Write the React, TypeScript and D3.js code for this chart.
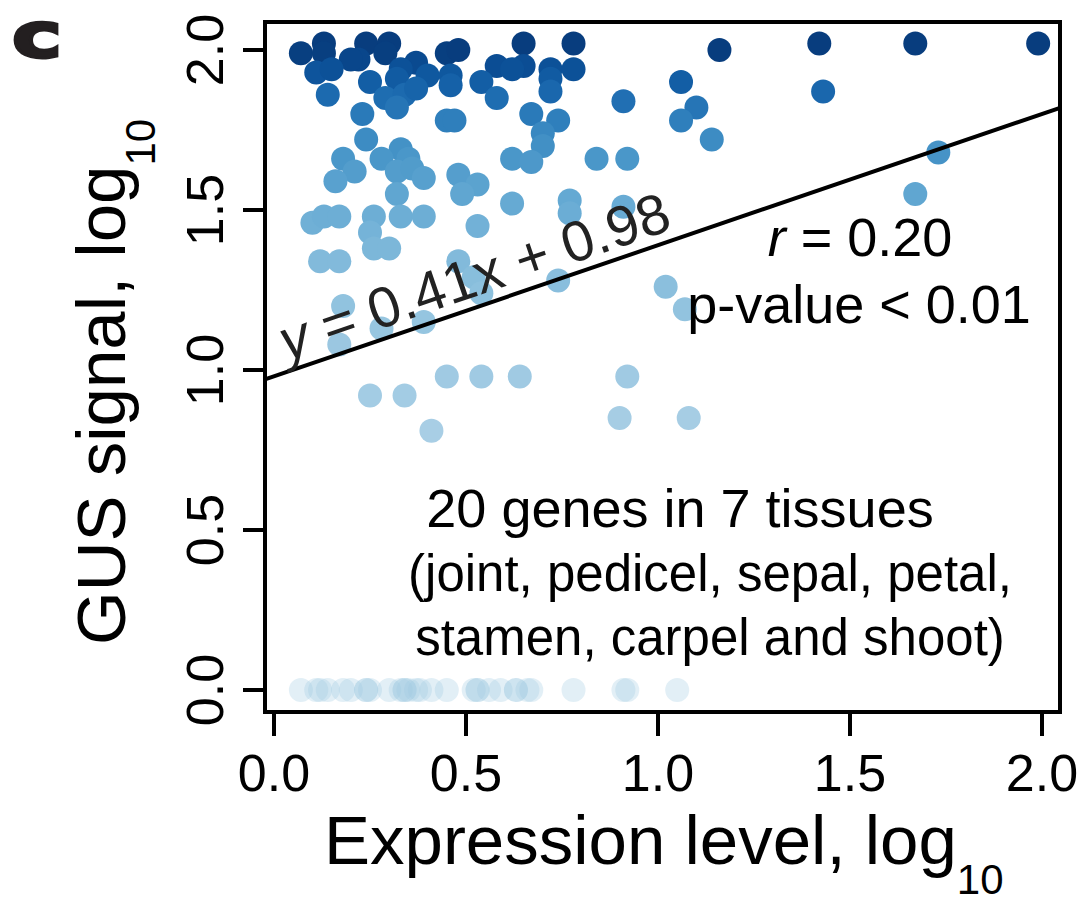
import React from "react";
import * as d3 from "d3";

// expression level (log10) and GUS signal (log10), one entry per gene/tissue
const expression = [
  0.07, 0.13, 0.13, 0.24, 0.30, 0.29, 0.22, 0.20, 0.45, 0.48, 0.65, 0.78, 0.58, 0.65, 0.62, 0.72,
  0.72, 0.78, 0.11, 0.15, 0.14, 0.25, 0.37, 0.33, 0.32, 0.40, 0.46, 0.46, 0.54, 0.58, 0.72, 0.29,
  0.34, 0.32, 0.37, 0.91, 0.23, 0.45, 0.47, 0.67, 0.74, 0.70, 0.70, 0.24, 0.33, 0.35, 0.28, 0.18,
  0.21, 0.16, 0.32, 0.36, 0.39, 0.48, 0.53, 0.49, 0.62, 0.67, 0.84, 0.92, 0.32, 0.62, 0.77, 0.77,
  0.91, 0.10, 0.13, 0.17, 0.26, 0.33, 0.39, 0.53, 0.25,
  1.16, 1.42, 1.67, 1.99, 1.06, 1.43, 1.10, 1.06, 1.14, 1.73, 1.67,
  0.12, 0.17, 0.26, 0.30, 0.48, 0.52, 0.54, 0.74, 1.02, 1.07, 0.18, 0.28, 0.39, 0.17,
  0.45, 0.54, 0.64, 0.92, 0.25, 0.34, 0.41, 0.90, 1.08,
  0.07, 0.12, 0.11, 0.14, 0.18, 0.20, 0.24, 0.24, 0.25, 0.30, 0.33, 0.34, 0.35, 0.34, 0.37, 0.38,
  0.41, 0.45, 0.53, 0.53, 0.52, 0.56, 0.59, 0.63, 0.63, 0.67, 0.66, 0.78, 0.91, 0.92, 1.05,
];
const gusSignal = [
  1.99, 2.02, 1.99, 2.02, 2.02, 1.99, 1.97, 1.97, 1.99, 2.0, 2.02, 2.02, 1.95, 1.95, 1.94, 1.94,
  1.91, 1.94, 1.93, 1.94, 1.86, 1.90, 1.96, 1.94, 1.91, 1.92, 1.92, 1.89, 1.90, 1.85, 1.87, 1.85,
  1.86, 1.82, 1.88, 1.84, 1.80, 1.78, 1.78, 1.80, 1.78, 1.74, 1.70, 1.72, 1.69, 1.66, 1.66, 1.66,
  1.62, 1.59, 1.62, 1.63, 1.60, 1.61, 1.58, 1.55, 1.66, 1.65, 1.66, 1.66, 1.55, 1.52, 1.53, 1.49,
  1.51, 1.46, 1.48, 1.48, 1.48, 1.48, 1.48, 1.45, 1.43,
  2.0, 2.02, 2.02, 2.02, 1.90, 1.87, 1.82, 1.78, 1.72, 1.68, 1.55,
  1.34, 1.34, 1.38, 1.38, 1.34, 1.29, 1.24, 1.28, 1.26, 1.19, 1.20, 1.13, 1.15, 1.08,
  0.98, 0.98, 0.98, 0.98, 0.92, 0.92, 0.81, 0.85, 0.85,
  0, 0, 0, 0, 0, 0, 0, 0, 0, 0, 0, 0, 0, 0, 0, 0,
  0, 0, 0, 0, 0, 0, 0, 0, 0, 0, 0, 0, 0, 0, 0,
];

const xTicks = [0, 0.5, 1, 1.5, 2];
const yTicks = [0, 0.5, 1, 1.5, 2];
const slope = 0.41;
const intercept = 0.98;
const noteLines = ["20 genes in 7 tissues", "(joint, pedicel, sepal, petal,", "stamen, carpel and shoot)"];

const W = 1080;
const H = 911;
const font = "'Liberation Sans', Arial, sans-serif";

export default function App() {
  const x = d3.scaleLinear().domain([0, 2]).range([274, 1042]);
  const y = d3.scaleLinear().domain([0, 2]).range([690, 50]);
  const box = { left: 265, right: 1060, top: 22, bottom: 712 };
  const xMin = x.invert(box.left);
  const xMax = x.invert(box.right);

  // colour follows the raw (unlogged) GUS signal
  const color = (v: number) =>
    d3.interpolateBlues(Math.min(0.95, 0.3 + (0.66 * Math.pow(10, v)) / 100));

  const points = expression.map((e, i) => ({ e, g: gusSignal[i] }));

  const fit = d3
    .line<number>()
    .x((d) => x(d))
    .y((d) => y(slope * d + intercept));

  const angle = (Math.atan((slope * (y(0) - y(1))) / (x(1) - x(0))) * 180) / Math.PI;
  const eqX = 0.034;
  const eqPos = [x(eqX), y(slope * eqX + intercept) - 11];

  return (
    <svg
      width={W}
      height={H}
      style={{ position: "absolute", left: 0, top: 0, background: "#fff" }}
      fontFamily={font}
    >
      <defs>
        <clipPath id="plot">
          <rect x={box.left} y={box.top} width={box.right - box.left} height={box.bottom - box.top} />
        </clipPath>
      </defs>

      <text
        x={12}
        y={57}
        fontFamily="'DejaVu Sans', sans-serif"
        fontSize={62}
        fontWeight="bold"
        stroke="#231f20"
        strokeWidth={3}
        fill="#231f20"
        textLength={50}
        lengthAdjust="spacingAndGlyphs"
      >
        c
      </text>

      {/* points */}
      <g clipPath="url(#plot)">
        {points.map((p, i) => (
          <circle
            key={i}
            cx={x(p.e)}
            cy={y(p.g)}
            r={12}
            fill={p.g > 0 ? color(p.g) : "#9ecae1"}
            fillOpacity={p.g > 0 ? 1 : 0.3}
          />
        ))}
        <path d={fit([xMin, xMax]) || ""} stroke="#000" strokeWidth={4} fill="none" />
      </g>

      {/* frame */}
      <rect
        x={box.left}
        y={box.top}
        width={box.right - box.left}
        height={box.bottom - box.top}
        fill="none"
        stroke="#000"
        strokeWidth={4}
      />

      {/* x axis */}
      {xTicks.map((t) => (
        <g key={"x" + t}>
          <line x1={x(t)} x2={x(t)} y1={box.bottom} y2={box.bottom + 24} stroke="#000" strokeWidth={4} />
          <text x={x(t)} y={791} fontSize={52} textAnchor="middle">
            {t.toFixed(1)}
          </text>
        </g>
      ))}

      {/* y axis */}
      {yTicks.map((t) => (
        <g key={"y" + t}>
          <line x1={box.left - 22} x2={box.left} y1={y(t)} y2={y(t)} stroke="#000" strokeWidth={4} />
          <text transform={`translate(223,${y(t)}) rotate(-90)`} fontSize={52} textAnchor="middle">
            {t.toFixed(1)}
          </text>
        </g>
      ))}

      <text x={324} y={864} fontSize={69}>
        Expression level, log
        <tspan fontSize={42} dy={30}>
          10
        </tspan>
      </text>
      <text transform="translate(125,645) rotate(-90)" fontSize={69}>
        GUS signal, log
        <tspan fontSize={42} dy={30}>
          10
        </tspan>
      </text>

      {/* annotations */}
      <text transform={`translate(${eqPos[0]},${eqPos[1]}) rotate(${-angle})`} fontSize={57} fill="#222">
        <tspan fontStyle="italic">y</tspan> = 0.41x + 0.98
      </text>
      <text x={860} y={256} fontSize={54} textAnchor="middle">
        <tspan fontStyle="italic">r</tspan> = 0.20
      </text>
      <text x={859} y={323} fontSize={54} textAnchor="middle">
        p-value &lt; 0.01
      </text>
      {noteLines.map((s, i) => (
        <text
          key={s}
          x={i === 0 ? 680 : 710}
          y={527 + i * 64}
          fontSize={i === 0 ? 54 : 51}
          textAnchor="middle"
        >
          {s}
        </text>
      ))}
    </svg>
  );
}
